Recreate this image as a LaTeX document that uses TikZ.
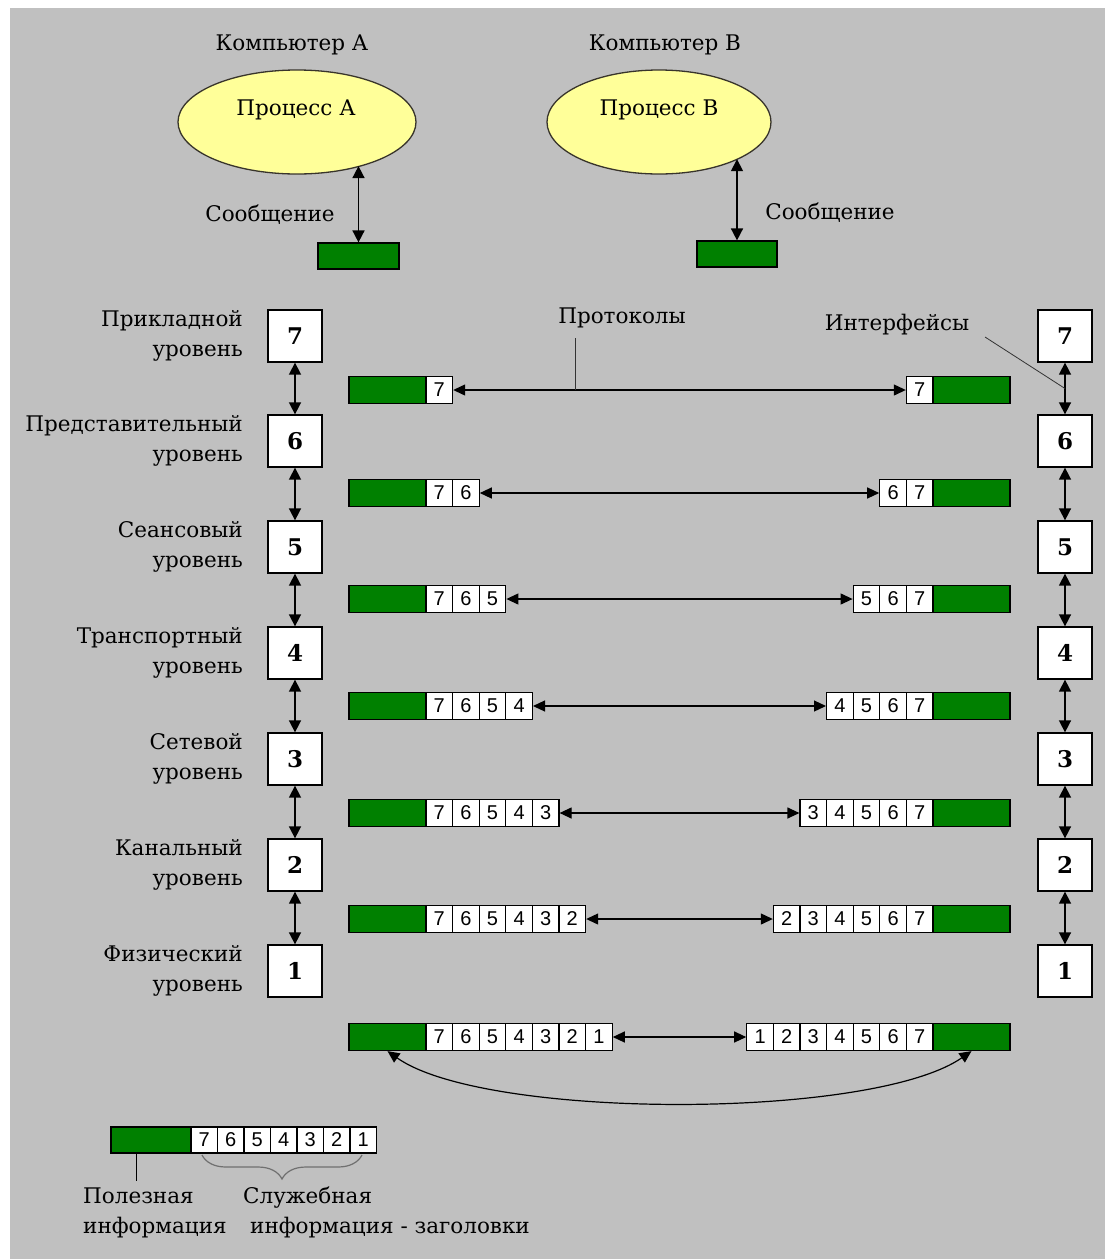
\documentclass[tikz,border=0pt]{standalone}
\usepackage{fontspec}
\setmainfont{DejaVu Serif}
\newfontfamily\cellfont{Liberation Sans}
\usetikzlibrary{arrows.meta,shapes.geometric,calc,decorations.pathreplacing}
\definecolor{bggray}{HTML}{C0C0C0}
\definecolor{paygreen}{HTML}{008000}
\definecolor{procyellow}{HTML}{FFFF99}
\definecolor{bracegray}{HTML}{707070}
\begin{document}
\begin{tikzpicture}[x=1pt,y=-1pt,
  lbl/.style={font=\fontsize{21.5}{30}\selectfont, inner sep=0pt},
  layerbox/.style={draw, fill=white, line width=1.3pt, minimum width=54pt, minimum height=52pt, inner sep=0pt, font=\fontsize{23}{26}\selectfont\bfseries},
  pay/.style={draw, fill=paygreen, line width=1.2pt, minimum width=77pt, minimum height=27pt, inner sep=0pt},
  cell/.style={draw, fill=white, line width=1.2pt, minimum width=26.6pt, minimum height=27pt, inner sep=0pt, font=\cellfont\fontsize{20}{22}\selectfont},
  dbl/.style={line width=1.2pt, {Triangle[length=12pt,width=11pt]}-{Triangle[length=12pt,width=11pt]}},
  vdbl/.style={line width=1.6pt, {Triangle[length=12pt,width=12pt]}-{Triangle[length=12pt,width=12pt]}},
  proc/.style={ellipse, draw=black!80!olive, fill=procyellow, line width=1.3pt, inner sep=0pt},
  lead/.style={line width=0.8pt, draw=black!80}]
\useasboundingbox (0,0) rectangle (1105,1259);
\fill[white] (0,0) rectangle (1105,1259);
\fill[bggray] (10,8) rectangle (1105,1259);

% computers and processes
\node[lbl] (CA) at (292,45) {Компьютер А};
\node[lbl] (CB) at (665,45) {Компьютер В};
\node[proc, minimum width=238pt, minimum height=104pt] (PA) at (297,122) {};
\node[proc, minimum width=224pt, minimum height=104pt] (PB) at (659,122) {};
\node[lbl] (PAt) at (296,110) {Процесс А};
\node[lbl] (PBt) at (659,110) {Процесс В};
\node[pay, minimum width=81pt, minimum height=26pt] (GA) at (358.5,256) {};
\node[pay, minimum width=80pt, minimum height=26pt] (GB) at (737,254) {};
\draw[vdbl] (GA.north) -- (GA.north |- PA.-34);
\draw[vdbl] (GB.north) -- (GB.north |- PB.-25);
\node[lbl] (MA) at (270,215) {Сообщение};
\node[lbl] (MB) at (830,213) {Сообщение};

% layer boxes and names
\foreach \n/\y/\nm in {7/336/Прикладной,6/441/Представительный,5/547/Сеансовый,4/653/Транспортный,3/759/Сетевой,2/865/Канальный,1/971/Физический}{
  \node[layerbox] (A\n) at (295,\y) {\n};
  \node[layerbox] (B\n) at (1065,\y) {\n};
  \node[lbl, align=right, anchor=east] (N\n) at (243,\y) {\nm\\уровень};
}
\foreach \a/\b in {7/6,6/5,5/4,4/3,3/2,2/1}{
  \draw[vdbl] (A\a.south) -- (A\b.north);
  \draw[vdbl] (B\a.south) -- (B\b.north);
}

% packets
\foreach \r/\y in {7/390,6/493,5/599,4/706,3/813,2/919,1/1037}{
  \node[pay] (LG\r) at (387.5,\y) {};
  \node[pay] (RG\r) at (971.5,\y) {};
  \foreach \k in {7,...,\r}{
    \pgfmathsetmacro\xl{426+(7-\k)*26.6+13.3}
    \pgfmathsetmacro\xr{933-(7-\k)*26.6-13.3}
    \node[cell] (L\r x\k) at (\xl,\y) {\k};
    \node[cell] (R\r x\k) at (\xr,\y) {\k};
  }
  \draw[dbl] (L\r x\r.east) -- (R\r x\r.west);
}
\draw[dbl] (LG1.south) .. controls (485,1120) and (872,1120) .. (RG1.south);

% protocol / interface labels
\node[lbl] (PR) at (622,318) {Протоколы};
\node[lbl] (IF) at (897,325) {Интерфейсы};
\coordinate (p1) at (575,338);
\draw[lead] (p1) -- (p1 |- L7x7.east);
\coordinate (i1) at (985,337);
\draw[lead] (i1) -- ($(B7)!0.5!(B6)$);

% legend
\node[pay, minimum width=80pt, minimum height=26pt] (KG) at (151,1140) {};
\foreach \k in {7,...,1}{
  \pgfmathsetmacro\xk{191+(7-\k)*26.5+13.25}
  \node[cell, minimum width=26.5pt, minimum height=26pt] (K\k) at (\xk,1140) {\k};
}
\draw[line width=1.2pt] ($(KG.south west)+(26,0)$) -- ++(0,27);
\draw[bracegray, line width=1.2pt, decorate, decoration={brace, amplitude=24pt, mirror}] (202,1155) -- (362,1155);
\node[lbl, align=left, anchor=west] (UI) at (83,1213) {Полезная\\информация};
\node[lbl, anchor=west] (SI1) at (243,1198) {Служебная};
\node[lbl, anchor=west] (SI2) at (250,1228) {информация - заголовки};
\end{tikzpicture}
\end{document}
